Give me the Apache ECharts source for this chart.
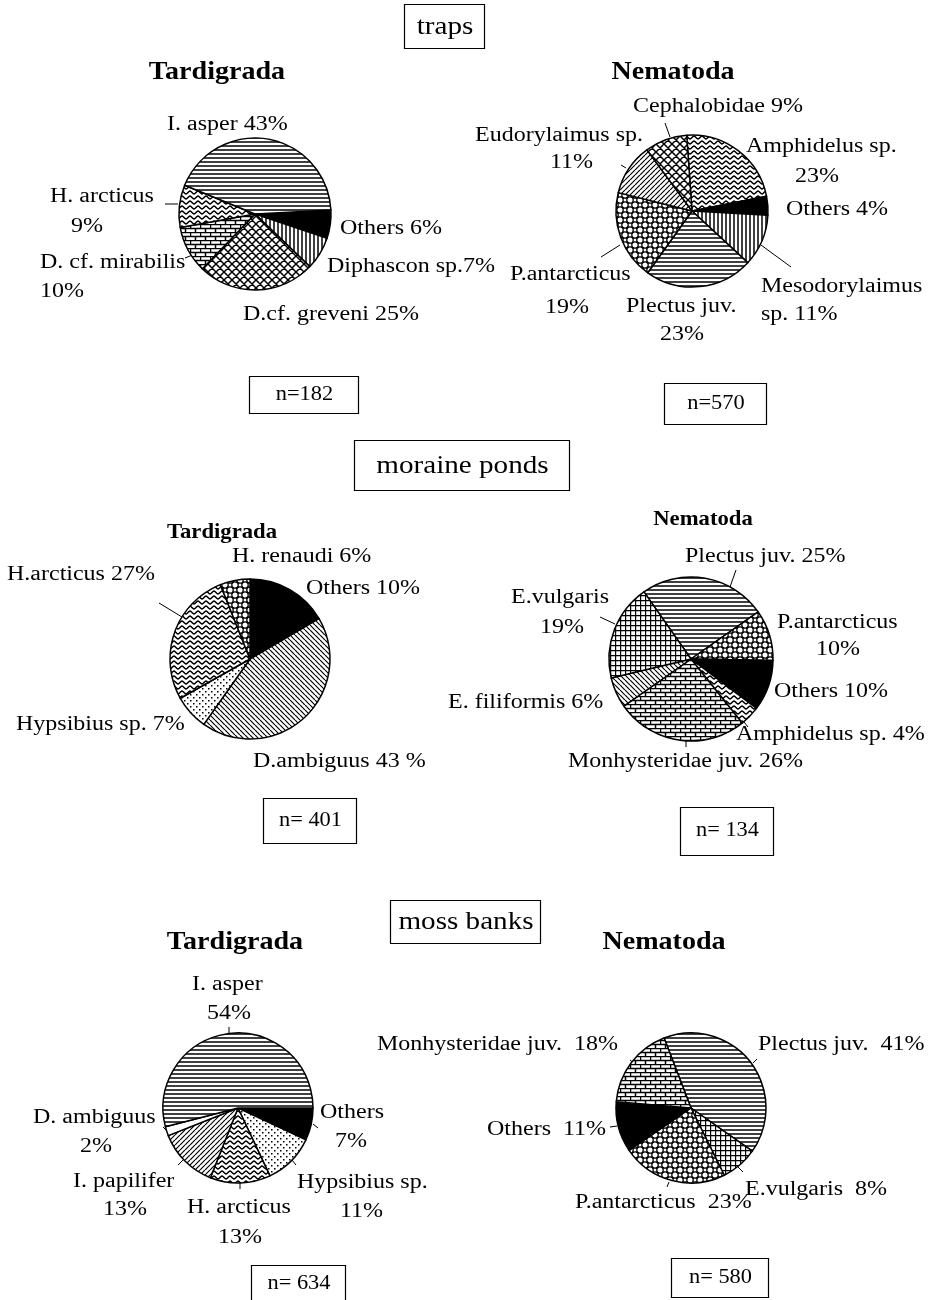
<!DOCTYPE html>
<html>
<head>
<meta charset="utf-8">
<script src="https://cdn.jsdelivr.net/npm/echarts@6.0.0/dist/echarts.min.js"></script>
<style>
  html, body { margin: 0; padding: 0; background: #fff; }
  #chart { width: 936px; height: 1300px; }
</style>
</head>
<body>
<div id="chart"></div>
<script>
// ---- data (slice shares, clockwise) ----
const trapsTardNames = ['Others', 'Diphascon sp.', 'D.cf. greveni', 'D. cf. mirabilis', 'H. arcticus', 'I. asper'];
const trapsTardValues = [6, 7, 25, 10, 9, 43];

const trapsNemaNames = ['Amphidelus sp.', 'Others', 'Mesodorylaimus sp.', 'Plectus juv.', 'P.antarcticus', 'Eudorylaimus sp.', 'Cephalobidae'];
const trapsNemaValues = [23, 4, 11, 23, 19, 11, 9];

const moraineTardNames = ['Others', 'D.ambiguus', 'Hypsibius sp.', 'H.arcticus', 'H. renaudi'];
const moraineTardValues = [16.5, 43, 7, 27, 6];

const moraineNemaNames = ['Plectus juv.', 'P.antarcticus', 'Others', 'Amphidelus sp.', 'Monhysteridae juv.', 'E. filiformis', 'E.vulgaris'];
const moraineNemaValues = [25, 10, 10, 4, 26, 6, 19];

const mossTardNames = ['Others', 'Hypsibius sp.', 'H. arcticus', 'I. papilifer', 'D. ambiguus', 'I. asper'];
const mossTardValues = [7, 11, 13, 13, 2, 54];

const mossNemaNames = ['Plectus juv.', 'E.vulgaris', 'P.antarcticus', 'Others', 'Monhysteridae juv.'];
const mossNemaValues = [41, 8, 23, 11, 18];

const sampleSizes = ['n=182', 'n=570', 'n= 401', 'n= 134', 'n= 634', 'n= 580'];

// ---- fill patterns per slice ----
const trapsTardFills = ['black', 'vlines', 'diamond', 'brick', 'waves', 'hlines'];
const trapsNemaFills = ['waves', 'black', 'vlines', 'hlines', 'circles', 'diagF', 'diamond'];
const moraineTardFills = ['black', 'diagB', 'dots', 'waves', 'circles'];
const moraineNemaFills = ['hlines', 'circles', 'black', 'waves', 'brick', 'diagB', 'grid'];
const mossTardFills = ['black', 'dots', 'waves', 'diagF', 'white', 'hlines'];
const mossNemaFills = ['hlines', 'grid', 'circles', 'black', 'brick'];

const FONT = '"Liberation Serif", "Times New Roman", serif';

function makePattern(kind) {
    if (kind === 'black') return '#000';
    if (kind === 'white') return '#fff';
    const sizes = {
        hlines: [4, 4], vlines: [4, 4], diagF: [5, 5], diagB: [5, 5],
        diamond: [8, 8], brick: [10, 8], waves: [8, 5], circles: [10, 10],
        dots: [6, 6], grid: [5, 5]
    };
    const [w, h] = sizes[kind];
    const c = document.createElement('canvas');
    c.width = w; c.height = h;
    const ctx = c.getContext('2d');
    ctx.fillStyle = '#fff';
    ctx.fillRect(0, 0, w, h);
    ctx.strokeStyle = '#000';
    ctx.fillStyle = '#000';
    ctx.lineWidth = 1.3;
    ctx.beginPath();
    if (kind === 'hlines') {
        ctx.lineWidth = 1.5;
        ctx.moveTo(0, 2); ctx.lineTo(w, 2);
    } else if (kind === 'vlines') {
        ctx.lineWidth = 1.5;
        ctx.moveTo(2, 0); ctx.lineTo(2, h);
    } else if (kind === 'diagF' || kind === 'diagB' || kind === 'diamond') {
        ctx.lineWidth = kind === 'diamond' ? 1.5 : 1.2;
        for (const k of [-w, 0, w]) {
            if (kind !== 'diagB') { ctx.moveTo(k, h); ctx.lineTo(k + w, 0); }
            if (kind !== 'diagF') { ctx.moveTo(k, 0); ctx.lineTo(k + w, h); }
        }
    } else if (kind === 'brick') {
        ctx.lineWidth = 1.5;
        ctx.moveTo(0, 0.5); ctx.lineTo(w, 0.5);
        ctx.moveTo(0, 4.5); ctx.lineTo(w, 4.5);
        ctx.moveTo(0.5, 0); ctx.lineTo(0.5, 4.5);
        ctx.moveTo(5.5, 4.5); ctx.lineTo(5.5, h);
    } else if (kind === 'waves') {
        ctx.lineWidth = 1.5;
        for (let x = -1; x <= w + 1; x += 0.5) {
            const y = 2.5 + 1.4 * Math.sin(2 * Math.PI * x / w);
            if (x === -1) ctx.moveTo(x, y); else ctx.lineTo(x, y);
        }
    } else if (kind === 'circles') {
        ctx.lineWidth = 1.3;
        const pts = [[5, 5], [0, 0], [10, 0], [0, 10], [10, 10]];
        pts.forEach(([x, y]) => { ctx.moveTo(x + 3.2, y); ctx.arc(x, y, 3.2, 0, Math.PI * 2); });
    } else if (kind === 'dots') {
        ctx.fillRect(1, 1, 1.5, 1.5);
        ctx.fillRect(4, 4, 1.5, 1.5);
    } else if (kind === 'grid') {
        ctx.lineWidth = 1.4;
        ctx.moveTo(0, 0.5); ctx.lineTo(w, 0.5);
        ctx.moveTo(0.5, 0); ctx.lineTo(0.5, h);
    }
    ctx.stroke();
    return { image: c, repeat: 'repeat' };
}

const pies = [
    { names: trapsTardNames, values: trapsTardValues, fills: trapsTardFills, center: [255, 214], r: 76, start: 3 },
    { names: trapsNemaNames, values: trapsNemaValues, fills: trapsNemaFills, center: [692, 211], r: 76, start: 94 },
    { names: moraineTardNames, values: moraineTardValues, fills: moraineTardFills, center: [250, 659], r: 80, start: 90 },
    { names: moraineNemaNames, values: moraineNemaValues, fills: moraineNemaFills, center: [691, 659], r: 82, start: 125 },
    { names: mossTardNames, values: mossTardValues, fills: mossTardFills, center: [238, 1108], r: 75, start: 0 },
    { names: mossNemaNames, values: mossNemaValues, fills: mossNemaFills, center: [691, 1108], r: 75, start: 111 }
];

// label lines: [text, left x, middle y]
const sliceLabels = [
    ['I. asper 43%', 167, 125], ['H. arcticus', 50, 197], ['9%', 71, 227],
    ['D. cf. mirabilis', 40, 263], ['10%', 40, 292], ['Others 6%', 340, 229],
    ['Diphascon sp.7%', 327, 267], ['D.cf. greveni 25%', 243, 315],

    ['Cephalobidae 9%', 633, 107], ['Eudorylaimus sp.', 475, 136], ['11%', 550, 163],
    ['Amphidelus sp.', 746, 147], ['23%', 795, 177], ['Others 4%', 786, 210],
    ['Mesodorylaimus', 761, 287], ['sp. 11%', 761, 315], ['P.antarcticus', 510, 275],
    ['19%', 545, 308], ['Plectus juv.', 626, 307], ['23%', 660, 335],

    ['H. renaudi 6%', 232, 557], ['H.arcticus 27%', 7, 575], ['Others 10%', 306, 589],
    ['Hypsibius sp. 7%', 16, 725], ['D.ambiguus 43 %', 253, 762],

    ['Plectus juv. 25%', 685, 557], ['E.vulgaris', 511, 598], ['19%', 540, 628],
    ['P.antarcticus', 777, 623], ['10%', 816, 650], ['Others 10%', 774, 692],
    ['E. filiformis 6%', 448, 703], ['Amphidelus sp. 4%', 736, 735],
    ['Monhysteridae juv. 26%', 568, 762],

    ['I. asper', 192, 985], ['54%', 207, 1014], ['Others', 320, 1113], ['7%', 335, 1142],
    ['D. ambiguus', 33, 1118], ['2%', 80, 1147], ['I. papilifer', 73, 1182], ['13%', 103, 1210],
    ['H. arcticus', 187, 1208], ['13%', 218, 1238], ['Hypsibius sp.', 297, 1183], ['11%', 340, 1212],

    ['Monhysteridae juv.  18%', 377, 1045], ['Plectus juv.  41%', 758, 1045],
    ['Others  11%', 487, 1130], ['P.antarcticus  23%', 575, 1203], ['E.vulgaris  8%', 745, 1190]
];

const leaders = [
    [165, 204, 178, 204], [185, 258, 195, 254],
    [665, 123, 670, 137], [621, 165, 626, 168], [761, 245, 791, 267], [601, 257, 620, 245],
    [159, 603, 182, 617],
    [736, 570, 730, 587], [600, 617, 615, 624], [740, 717, 748, 727], [686, 740, 686, 747],
    [229, 1027, 229, 1034], [313, 1124, 318, 1128], [163, 1127, 167, 1131], [178, 1165, 183, 1160],
    [240, 1182, 240, 1189], [292, 1160, 296, 1165],
    [630, 1060, 635, 1064], [753, 1063, 757, 1059], [610, 1127, 617, 1126], [669, 1182, 667, 1187],
    [738, 1167, 743, 1172]
];

// [text, center x, middle y, size]
const titles = [
    ['Tardigrada', 217, 72, 26], ['Nematoda', 673, 72, 26],
    ['Tardigrada', 222, 533, 21], ['Nematoda', 703, 520, 21],
    ['Tardigrada', 235, 942, 26], ['Nematoda', 664, 942, 26]
];

// [text, x, y, w, h, size, text middle y]
const boxes = [
    ['traps', 404, 4, 80, 44, 26, 27], ['moraine ponds', 354, 440, 215, 50, 26, 466], ['moss banks', 390, 900, 150, 43, 26, 922],
    [sampleSizes[0], 249, 376, 109, 37, 20, 395], [sampleSizes[1], 664, 383, 102, 41, 20, 404],
    [sampleSizes[2], 263, 798, 93, 45, 20, 821], [sampleSizes[3], 680, 807, 93, 48, 20, 831],
    [sampleSizes[4], 251, 1265, 94, 60, 20, 1284], [sampleSizes[5], 671, 1258, 97, 39, 20, 1278]
];

function txt(s, x, y, font, align, sx) {
    return {
        type: 'text', x: x, y: y, scaleX: sx, silent: true,
        style: { text: s, font: font, fill: '#000', textAlign: align, textVerticalAlign: 'middle' }
    };
}

const elements = [];
sliceLabels.forEach(([s, x, y]) => elements.push(txt(s, x, y, '20px ' + FONT, 'left', 1.2)));
titles.forEach(([s, x, y, size]) => elements.push(txt(s, x, y, 'bold ' + size + 'px ' + FONT, 'center', 1.08)));
boxes.forEach(([s, x, y, w, h, size, ty]) => {
    elements.push({
        type: 'rect', silent: true,
        shape: { x: x + 0.5, y: y + 0.5, width: w, height: h },
        style: { fill: '#fff', stroke: '#000', lineWidth: 1.2 }
    });
    elements.push(txt(s, x + w / 2 + 1, ty, size + 'px ' + FONT, 'center', 1.12));
});
leaders.forEach(([x1, y1, x2, y2]) => elements.push({
    type: 'line', silent: true,
    shape: { x1: x1, y1: y1, x2: x2, y2: y2 },
    style: { stroke: '#000', lineWidth: 1 }
}));

const chart = echarts.init(document.getElementById('chart'));
chart.setOption({
    animation: false,
    backgroundColor: '#fff',
    graphic: { elements: elements },
    series: pies.map(p => ({
        type: 'pie',
        center: p.center,
        radius: p.r,
        startAngle: p.start,
        clockwise: true,
        silent: true,
        label: { show: false },
        labelLine: { show: false },
        itemStyle: { borderColor: '#000', borderWidth: 1.5 },
        data: p.names.map((n, i) => ({
            name: n,
            value: p.values[i],
            itemStyle: { color: makePattern(p.fills[i]) }
        }))
    }))
});
</script>
</body>
</html>
